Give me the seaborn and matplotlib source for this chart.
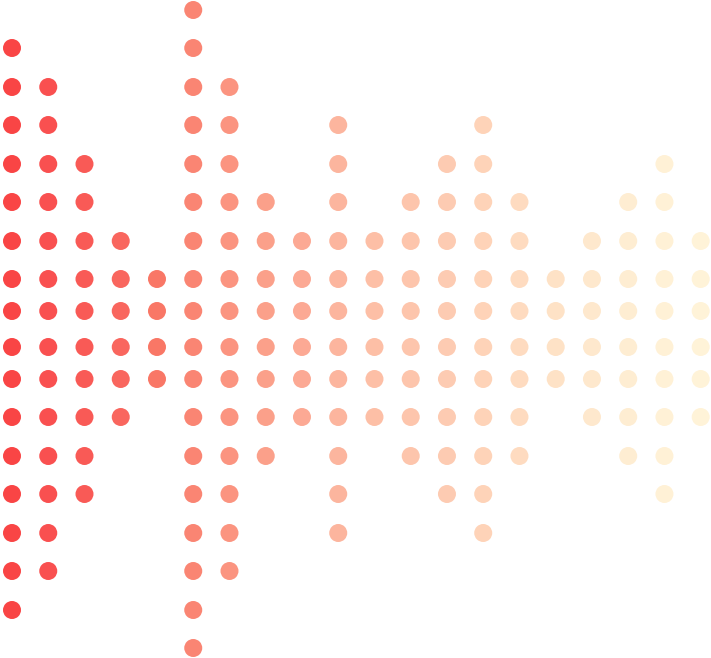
import matplotlib
matplotlib.use("Agg")
import matplotlib.pyplot as plt
import seaborn as sns
import pandas as pd
import numpy as np

# dots per column (symmetric around the middle)
counts = [16, 14, 10, 6, 4, 18, 14, 8, 6, 12, 6, 8, 10, 12, 8, 4, 6, 8, 10, 6]

# vertical levels of the dot rows, top to bottom
levels = [-319, -281, -242, -204, -165, -127, -88, -50, -18,
          18, 50, 88, 127, 165, 204, 242, 281, 319]

# one colour per column, red -> pale yellow
col_colors = ["#f94545", "#f95050", "#f95a56", "#f9665e", "#f97766",
              "#fa8573", "#fb9480", "#fba08a", "#fca994", "#fcb59e",
              "#fdbfa6", "#fdc5ac", "#fdcbb2", "#fed3b8", "#fedbc0",
              "#fee2c6", "#fee8cd", "#feedd2", "#fff1d6", "#fff3d8"]

rows = []
for i, n in enumerate(counts):
    half = n // 2
    for y in levels[9 - half: 9 + half]:
        rows.append({"col": i, "y": y})
df = pd.DataFrame(rows)

sns.set_theme(style="white")
fig = plt.figure(figsize=(7.11, 6.58), dpi=100)
ax = fig.add_axes([0, 0, 1, 1])

sns.scatterplot(data=df, x="col", y="y", hue="col", palette=col_colors,
                s=168, linewidth=0, legend=False, ax=ax)

ax.set_xlim(-12 / 36.25, 19 + 10.3 / 36.25)
ax.set_ylim(329, -329)
ax.axis("off")

plt.savefig("out.png", dpi=100, facecolor="white")
